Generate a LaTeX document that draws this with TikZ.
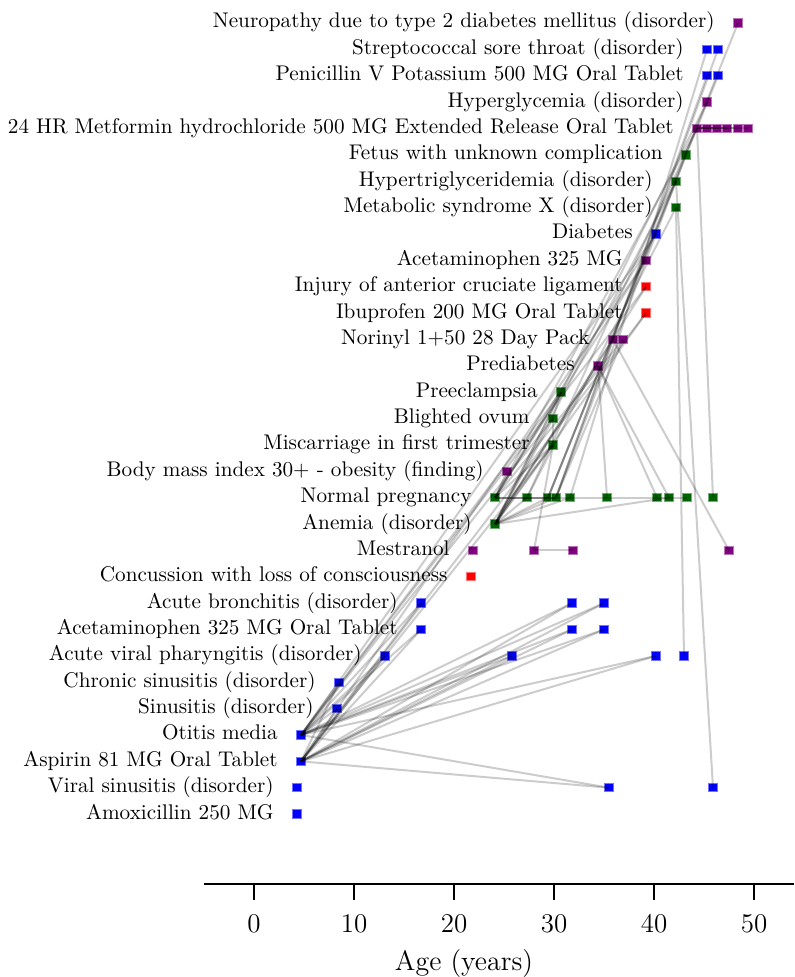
\documentclass[tikz,border=0pt]{standalone}
\usepackage{tikz}
\usepackage{xcolor}

\definecolor{evazul}{RGB}{0,0,255}
\definecolor{evmorado}{RGB}{128,0,128}
\definecolor{evverde}{RGB}{0,100,0}
\definecolor{evrojo}{RGB}{255,0,0}

\begin{document}
\begin{tikzpicture}[x=5pt,y=-0.5pt,
  mk/.style={rectangle,inner sep=0pt,minimum size=4.2pt,fill=#1,draw=#1!55,line width=0.5pt},
  etiq/.style={anchor=base east,inner sep=0pt,font=\fontsize{10.6}{12}\selectfont},
  arista/.style={line width=1pt,black,opacity=0.2},
  numtick/.style={anchor=base,inner sep=0pt,font=\fontsize{13.5}{15}\selectfont}]
  % Parámetros de la ventana gráfica (x en años, y en píxeles)
  \def\xmin{-5}
  \def\xmax{54}
  \def\dy{26.37}
  \useasboundingbox (-25.4,0) rectangle (54,977);

  % Etiquetas de las filas (edad del primer evento / texto)
  \foreach \a/\lab [count=\i] in {
    48.4/Neuropathy due to type 2 diabetes mellitus (disorder),
    45.3/Streptococcal sore throat (disorder),
    45.3/Penicillin V Potassium 500 MG Oral Tablet,
    45.3/Hyperglycemia (disorder),
    44.3/24 HR Metformin hydrochloride 500 MG Extended Release Oral Tablet,
    43.2/Fetus with unknown complication,
    42.2/Hypertriglyceridemia (disorder),
    42.2/Metabolic syndrome X (disorder),
    40.2/Diabetes,
    39.2/Acetaminophen 325 MG,
    39.2/Injury of anterior cruciate ligament,
    39.2/Ibuprofen 200 MG Oral Tablet,
    35.9/Norinyl 1+50 28 Day Pack,
    34.4/Prediabetes,
    30.7/Preeclampsia,
    29.9/Blighted ovum,
    29.9/Miscarriage in first trimester,
    25.3/Body mass index 30+ - obesity (finding),
    24.1/Normal pregnancy,
    24.1/Anemia (disorder),
    21.9/Mestranol,
    21.7/Concussion with loss of consciousness,
    16.7/Acute bronchitis (disorder),
    16.7/Acetaminophen 325 MG Oral Tablet,
    13.1/Acute viral pharyngitis (disorder),
    8.5/Chronic sinusitis (disorder),
    8.3/Sinusitis (disorder),
    4.7/Otitis media,
    4.7/Aspirin 81 MG Oral Tablet,
    4.3/Viral sinusitis (disorder),
    4.3/Amoxicillin 250 MG}
    \node[etiq] (lab\i) at ({\a-2.3},{23+\dy*(\i-1)+5}) {\lab};

  % Eventos: nombre / edad / fila / color
  \foreach \n/\a/\f/\c in {
    neu/48.4/1/evmorado, strA/45.3/2/evazul, strB/46.4/2/evazul,
    penA/45.3/3/evazul, penB/46.4/3/evazul, hyp/45.3/4/evmorado,
    metA/44.3/5/evmorado, metB/45.3/5/evmorado, metC/46.3/5/evmorado,
    metD/47.3/5/evmorado, metE/48.4/5/evmorado, metF/49.4/5/evmorado,
    fet/43.2/6/evverde, htg/42.2/7/evverde, msx/42.2/8/evverde,
    dia/40.2/9/evazul, ace/39.2/10/evmorado, acl/39.2/11/evrojo,
    ibu/39.2/12/evrojo, norA/35.9/13/evmorado, norB/36.9/13/evmorado,
    pre/34.4/14/evmorado, pec/30.7/15/evverde, blo/29.9/16/evverde,
    mis/29.9/17/evverde, bmi/25.3/18/evmorado,
    npA/24.1/19/evverde, npB/27.3/19/evverde, npC/29.4/19/evverde,
    npD/30.2/19/evverde, npE/31.6/19/evverde, npF/35.3/19/evverde,
    npG/40.3/19/evverde, npH/41.5/19/evverde, npI/43.3/19/evverde,
    npJ/45.9/19/evverde, ane/24.1/20/evverde,
    mesA/21.9/21/evmorado, mesB/28.0/21/evmorado, mesC/31.9/21/evmorado,
    mesD/47.5/21/evmorado, con/21.7/22/evrojo,
    broA/16.7/23/evazul, broB/31.8/23/evazul, broC/35.0/23/evazul,
    acoA/16.7/24/evazul, acoB/31.8/24/evazul, acoC/35.0/24/evazul,
    avpA/13.1/25/evazul, avpB/25.8/25/evazul, avpC/40.2/25/evazul,
    avpD/43.0/25/evazul, csi/8.5/26/evazul, sin/8.3/27/evazul,
    oti/4.7/28/evazul, asp/4.7/29/evazul,
    vsiA/4.3/30/evazul, vsiB/35.5/30/evazul, vsiC/45.9/30/evazul,
    amo/4.3/31/evazul}
    \node[mk=\c] (\n) at (\a,{23+\dy*(\f-1)}) {};

  % Conexiones entre eventos
  \foreach \u/\v in {
    oti/broA, oti/acoA, oti/avpA, oti/csi, oti/sin, oti/broB, oti/acoB,
    oti/broC, oti/acoC, oti/avpB, oti/avpC, oti/vsiB, oti/acl, oti/dia,
    oti/pec, oti/blo,
    asp/broA, asp/acoA, asp/avpA, asp/csi, asp/sin, asp/broB, asp/acoB,
    asp/broC, asp/acoC, asp/avpB, asp/avpC, asp/vsiB, asp/ibu, asp/ace,
    asp/mis,
    npA/npB, npA/npC, npA/npD, npB/npD, npC/npD, npA/bmi, npD/npE,
    npE/npI, ane/npB, ane/npC, ane/npD, ane/npE, ane/npH,
    pec/blo, blo/mis, pec/npA, mis/npA, blo/ane, pec/ane, mis/ane,
    mis/mesB, mesB/mesC,
    ane/norA, npA/norB, norB/npD, norA/mesD, pre/npF, pre/npG, pre/npH,
    pre/ane, ane/acl, ane/ibu, npA/ace,
    npE/strA, npD/penA, npD/strB, npC/penB, npC/neu, ane/hyp, npA/metA,
    npB/metA, npD/fet, npC/htg, ane/htg, npB/msx, npA/dia,
    msx/avpD, htg/vsiC, metA/npJ,
    metA/metB, metA/metC, metA/metD, metA/metE, metB/metF}
    \draw[arista] (\u.center) -- (\v.center);

  % Eje de edades
  \draw[line width=1.3pt] (\xmin,884) -- (\xmax,884);
  \foreach \t in {0,10,...,50} {
    \draw[line width=1.1pt] (\t,885) -- (\t,900);
    \node[numtick] (t\t) at (\t,932) {\t};
  }
  \node[anchor=base,font=\fontsize{14}{16}\selectfont] (xlab) at (21.0,970) {Age (years)};
\end{tikzpicture}
\end{document}
